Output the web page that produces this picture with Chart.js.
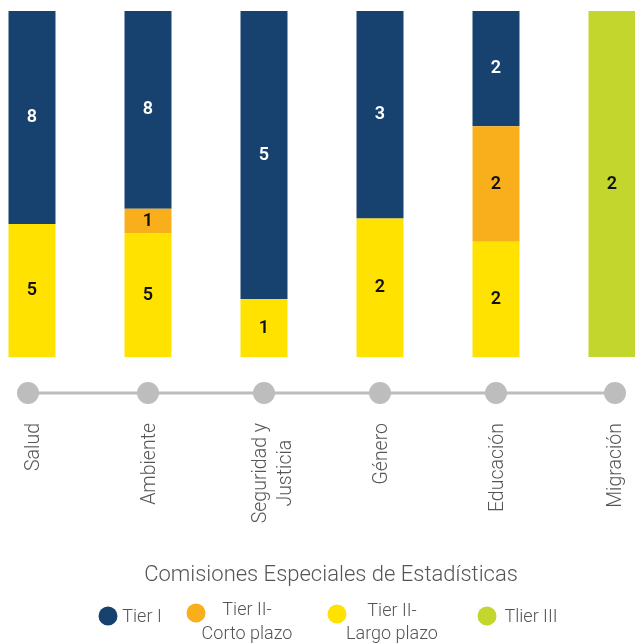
<!DOCTYPE html>
<html>
<head>
<meta charset="utf-8">
<script src="https://cdn.jsdelivr.net/npm/chart.js@4"></script>
<style>
  html, body { margin: 0; padding: 0; background: #fff; }
  #wrap { position: relative; width: 635px; height: 644px; }
</style>
</head>
<body>
<div id="wrap"><canvas id="c" width="635" height="644"></canvas></div>
<script>
const categories = ['Salud', 'Ambiente', ['Seguridad y', 'Justicia'], 'Género', 'Educación', 'Migración'];
const tierI = [8, 8, 5, 3, 2, 0];
const tierIICorto = [0, 1, 0, 0, 2, 0];
const tierIILargo = [5, 5, 1, 2, 2, 0];
const tierIII = [0, 0, 0, 0, 0, 2];
const chartTitle = 'Comisiones Especiales de Estadísticas';
const legendItems = [
  { lines: ['Tier I'], color: '#17416F' },
  { lines: ['Tier II-', 'Corto plazo'], color: '#F9AE1B' },
  { lines: ['Tier II-', 'Largo plazo'], color: '#FFE200' },
  { lines: ['Tlier III'], color: '#C2D62E' }
];

const totals = categories.map((_, i) => tierI[i] + tierIICorto[i] + tierIILargo[i] + tierIII[i]);
const share = arr => arr.map((v, i) => v / totals[i] * 100);

const FONT = 'Roboto, "Noto Sans", sans-serif';

const decor = {
  id: 'decor',
  afterDatasetsDraw(chart) {
    const ctx = chart.ctx;
    chart.data.datasets.forEach((ds, di) => {
      const meta = chart.getDatasetMeta(di);
      meta.data.forEach((bar, i) => {
        const v = ds.raw[i];
        if (!v) return;
        const y = (bar.y + bar.base) / 2;
        ctx.save();
        ctx.font = '600 18px ' + FONT;
        ctx.fillStyle = ds.labelColor;
        ctx.textAlign = 'center';
        ctx.textBaseline = 'middle';
        ctx.fillText(String(v), bar.x, y);
        ctx.restore();
      });
    });
  },
  afterDraw(chart) {
    const ctx = chart.ctx;
    const xs = chart.scales.x;
    const lineY = 393;
    const px = categories.map((_, i) => xs.getPixelForValue(i));
    ctx.save();
    ctx.strokeStyle = '#BDBDBD';
    ctx.lineWidth = 3;
    ctx.beginPath();
    ctx.moveTo(px[0], lineY);
    ctx.lineTo(px[px.length - 1] + 3, lineY);
    ctx.stroke();
    ctx.fillStyle = '#BDBDBD';
    px.forEach((x, i) => {
      const dx = i === 0 ? -4 : (i === px.length - 1 ? 3 : 0);
      ctx.beginPath();
      ctx.arc(x + dx, lineY, 11, 0, Math.PI * 2);
      ctx.fill();
    });
    ctx.font = '300 19.5px ' + FONT;
    ctx.fillStyle = '#555';
    categories.forEach((lab, i) => {
      const lines = Array.isArray(lab) ? lab : [lab];
      const maxW = Math.max(...lines.map(l => ctx.measureText(l).width));
      const lh = 25;
      const shift = lines.length > 1 ? 8 : 0;
      ctx.save();
      ctx.translate(px[i] + shift + (i === px.length - 1 ? 2 : 0), 423);
      ctx.rotate(-Math.PI / 2);
      ctx.textAlign = 'center';
      ctx.textBaseline = 'middle';
      const off = (lines.length - 1) * lh / 2;
      lines.forEach((l, k) => {
        ctx.fillText(l, -maxW / 2, k * lh - off + 2);
      });
      ctx.restore();
    });
    ctx.font = '300 22px ' + FONT;
    ctx.fillStyle = '#555';
    ctx.textAlign = 'center';
    ctx.textBaseline = 'middle';
    ctx.fillText(chartTitle, 331, 575);
    const pos = [
      { cx: 108, cy: 616, tx: 142, ty: [617] },
      { cx: 196, cy: 613, tx: 247, ty: [610, 634] },
      { cx: 337, cy: 614, tx: 392, ty: [611, 634] },
      { cx: 487, cy: 616, tx: 531, ty: [617] }
    ];
    ctx.font = '300 18px ' + FONT;
    legendItems.forEach((it, i) => {
      const p = pos[i];
      ctx.fillStyle = it.color;
      ctx.beginPath();
      ctx.arc(p.cx, p.cy, 9.5, 0, Math.PI * 2);
      ctx.fill();
      ctx.fillStyle = '#555';
      it.lines.forEach((l, k) => ctx.fillText(l, p.tx, p.ty[k]));
    });
    ctx.restore();
  }
};

const mk = (label, raw, color, labelColor) => ({
  label, raw, data: share(raw), backgroundColor: color, labelColor,
  barPercentage: 1, categoryPercentage: 0.405, clip: false, borderWidth: 0
});

new Chart(document.getElementById('c'), {
  type: 'bar',
  data: {
    labels: categories,
    datasets: [
      mk('Tier II- Largo plazo', tierIILargo, '#FFE200', '#111'),
      mk('Tier II- Corto plazo', tierIICorto, '#F9AE1B', '#111'),
      mk('Tier I', tierI, '#17416F', '#fff'),
      mk('Tlier III', tierIII, '#C2D62E', '#111')
    ]
  },
  options: {
    responsive: false,
    animation: false,
    layout: { padding: { left: 32, right: 23, top: 11, bottom: 287 } },
    plugins: { legend: { display: false }, tooltip: { enabled: false }, title: { display: false } },
    scales: {
      x: { stacked: true, display: false, offset: false, grid: { display: false } },
      y: { stacked: true, display: false, min: 0, max: 100, grid: { display: false } }
    }
  },
  plugins: [decor]
});
</script>
</body>
</html>
